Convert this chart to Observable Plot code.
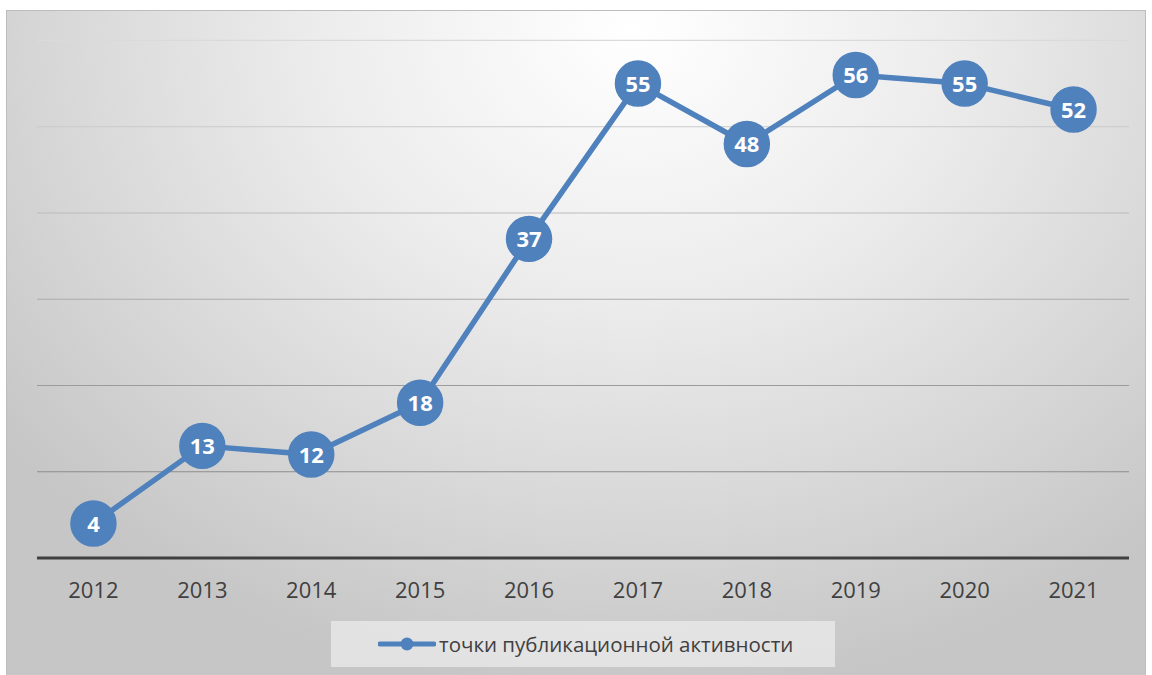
<!DOCTYPE html>
<html>
<head>
<meta charset="utf-8">
<script src="https://cdn.jsdelivr.net/npm/d3@7"></script>
<script src="https://cdn.jsdelivr.net/npm/@observablehq/plot@0.6"></script>
<style>
  html, body { margin: 0; padding: 0; background: #ffffff; }
  #chart {
    position: absolute; left: 6px; top: 10px; width: 1140px; height: 665px;
    box-sizing: border-box; border: 1px solid #bdbdbd; border-bottom: none;
    background: radial-gradient(ellipse 70% 100% at 55% 3%, #ffffff 0%, #ececec 40%, #d6d6d6 75%, #c6c6c6 100%);
    font-family: "Open Sans", sans-serif; overflow: hidden;
  }
  #plot { position: absolute; left: -1px; top: -1px; }
  #legend {
    position: absolute; left: 324px; top: 610px; width: 504px; height: 46px;
    background: rgba(235,235,235,0.75);
    display: flex; align-items: center; box-sizing: border-box; padding-left: 47px;
  }
  #legend span { font-size: 20.5px; color: #404040; margin-left: 3px; }
</style>
</head>
<body>
<div id="chart">
  <div id="plot"></div>
  <div id="legend"></div>
</div>
<script>
const years = ["2012","2013","2014","2015","2016","2017","2018","2019","2020","2021"];
const values = [4, 13, 12, 18, 37, 55, 48, 56, 55, 52];
const gridValues = [10, 20, 30, 40, 50, 60];
const seriesName = "точки публикационной активности";

const data = years.map((y, i) => ({year: y, value: values[i]}));
const blue = "#4f81bd";
const gridColor = d3.interpolateRgb("#dadada", "#8c8c8c");

const chart = Plot.plot({
  width: 1140,
  height: 600,
  marginTop: 30,
  marginBottom: 52,
  marginLeft: 31,
  marginRight: 16,
  style: {background: "transparent", fontFamily: "Open Sans, sans-serif", overflow: "visible"},
  x: {type: "point", domain: years, padding: 0.5, label: null},
  y: {domain: [0, 60], axis: null},
  marks: [
    Plot.ruleY(gridValues, {stroke: d => gridColor((60 - d) / 50), strokeWidth: 1.2}),
    Plot.ruleY([0], {stroke: "#404040", strokeWidth: 3.2}),
    Plot.axisX({tickSize: 0, tickPadding: 24, fontSize: 22, fill: "#404040", label: null}),
    Plot.line(data, {x: "year", y: "value", stroke: blue, strokeWidth: 5.5}),
    Plot.dot(data, {x: "year", y: "value", r: 22.5, fill: blue, stroke: blue}),
    Plot.text(data, {x: "year", y: "value", text: d => String(d.value), fill: "white", fontSize: 22, fontWeight: "bold", dy: 1})
  ]
});
document.getElementById("plot").appendChild(chart);

const legend = document.getElementById("legend");
const ls = d3.create("svg").attr("width", 58).attr("height", 16);
ls.append("line").attr("x1", 2).attr("x2", 56).attr("y1", 8).attr("y2", 8)
  .attr("stroke", blue).attr("stroke-width", 5).attr("stroke-linecap", "round");
ls.append("circle").attr("cx", 29).attr("cy", 8).attr("r", 6.5).attr("fill", blue);
legend.appendChild(ls.node());
const sp = document.createElement("span");
sp.textContent = seriesName;
legend.appendChild(sp);
</script>
</body>
</html>
